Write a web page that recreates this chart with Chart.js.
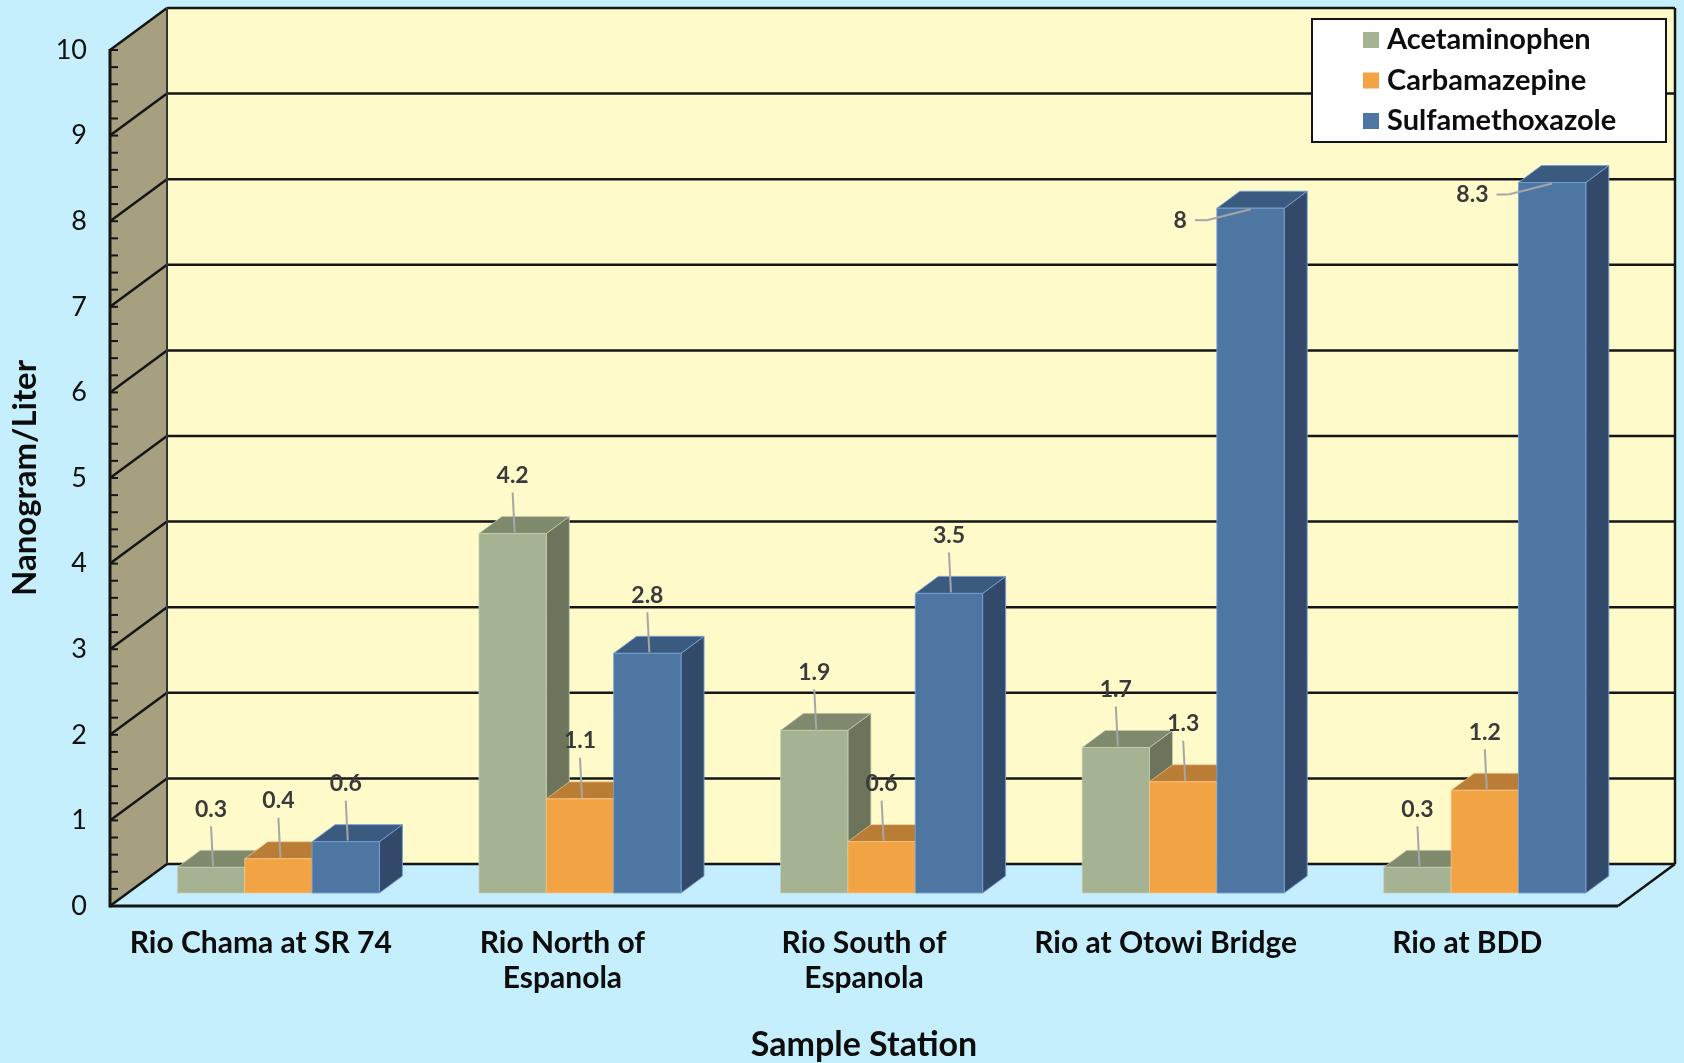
<!DOCTYPE html>
<html>
<head>
<meta charset="utf-8">
<script src="https://cdn.jsdelivr.net/npm/chart.js@4.4.1/dist/chart.umd.min.js"></script>
<style>
  html, body { margin: 0; padding: 0; background: #c6effd; }
  #wrap { width: 1684px; height: 1063px; }
</style>
</head>
<body>
<div id="wrap"><canvas id="chart" width="1684" height="1063"></canvas></div>
<script>
const stations = [
  "Rio Chama at SR 74",
  ["Rio North of", "Espanola"],
  ["Rio South of", "Espanola"],
  "Rio at Otowi Bridge",
  "Rio at BDD"
];
const seriesNames = ["Acetaminophen", "Carbamazepine", "Sulfamethoxazole"];
const acetaminophen = [0.3, 4.2, 1.9, 1.7, 0.3];
const carbamazepine = [0.4, 1.1, 0.6, 1.3, 1.2];
const sulfamethoxazole = [0.6, 2.8, 3.5, 8, 8.3];
const yTicks = [0, 1, 2, 3, 4, 5, 6, 7, 8, 9, 10];

// box faces for each series
const faces = [
  { front: "#a5b392", top: "#7f8a6d", side: "#6c755b", edge: "rgba(200,210,185,0.7)" },
  { front: "#f2a445", top: "#b97d36", side: "#a86f2e", edge: "rgba(250,200,140,0.7)" },
  { front: "#4e76a2", top: "#3b5a7f", side: "#33496a", edge: "rgba(120,160,210,0.9)" }
];

const FONT = "Lato, 'Open Sans', sans-serif";
// depth offsets relative to the bar plane
const FX = -17.6, FY = 13;   // front edge of floor
const BX = 39.4, BY = -29;   // back wall
const DX = 23, DY = -17;     // bar depth

function poly(ctx, pts, fill, stroke, lw) {
  ctx.beginPath();
  ctx.moveTo(pts[0][0], pts[0][1]);
  for (let i = 1; i < pts.length; i++) ctx.lineTo(pts[i][0], pts[i][1]);
  ctx.closePath();
  if (fill) { ctx.fillStyle = fill; ctx.fill(); }
  if (stroke) { ctx.strokeStyle = stroke; ctx.lineWidth = lw || 1; ctx.stroke(); }
}

function line(ctx, x1, y1, x2, y2, color, lw) {
  ctx.beginPath();
  ctx.moveTo(x1, y1);
  ctx.lineTo(x2, y2);
  ctx.strokeStyle = color;
  ctx.lineWidth = lw;
  ctx.stroke();
}

const walls = {
  id: "walls",
  beforeDraw(chart) {
    const ctx = chart.ctx;
    const { left, right } = chart.chartArea;
    const y = chart.scales.y;
    const yTop = y.getPixelForValue(10), yBase = y.getPixelForValue(0);
    ctx.save();
    ctx.fillStyle = "#c6effd";
    ctx.fillRect(0, 0, chart.width, chart.height);

    // floor, back wall, side wall
    poly(ctx, [[left + FX, yBase + FY], [right + FX, yBase + FY], [right + BX, yBase + BY], [left + BX, yBase + BY]], "#c4eefd");
    ctx.fillStyle = "#fefac9";
    ctx.fillRect(left + BX, yTop + BY, right - left, yBase - yTop);
    poly(ctx, [[left + FX, yTop + FY], [left + BX, yTop + BY], [left + BX, yBase + BY], [left + FX, yBase + FY]], "#a69f80");

    // gridlines on both walls
    yTicks.forEach(v => {
      const p = y.getPixelForValue(v);
      line(ctx, left + BX, p + BY, right + BX, p + BY, "#151515", 2.5);
      line(ctx, left + FX, p + FY, left + BX, p + BY, "#151515", 2.5);
    });
    line(ctx, left + BX, yTop + BY, left + BX, yBase + BY, "#333", 2);
    line(ctx, right + BX, yTop + BY, right + BX, yBase + BY, "#151515", 2.5);
    line(ctx, right + FX, yBase + FY, right + BX, yBase + BY, "#151515", 2.5);
    line(ctx, left + FX, yBase + FY, right + FX, yBase + FY, "#151515", 3);
    line(ctx, left + FX, yTop + FY - 1, left + FX, yBase + FY + 1.5, "#151515", 3);

    // minor ticks every 0.2
    for (let k = 0; k <= 50; k++) {
      const p = y.getPixelForValue(k / 5) + FY;
      line(ctx, left + FX, p, left + FX + 8, p, "#151515", 2);
    }

    // y tick labels
    ctx.fillStyle = "#111";
    ctx.font = "27px " + FONT;
    ctx.textAlign = "right";
    ctx.textBaseline = "middle";
    yTicks.forEach(v => ctx.fillText(String(v), 87, y.getPixelForValue(v) + FY));
    ctx.restore();
  }
};

const boxes = {
  id: "boxes",
  beforeDatasetsDraw(chart) {
    const ctx = chart.ctx;
    ctx.save();
    const n = chart.data.labels.length;
    for (let i = 0; i < n; i++) {
      chart.data.datasets.forEach((ds, d) => {
        const bar = chart.getDatasetMeta(d).data[i];
        const c = faces[d];
        const x0 = bar.x - bar.width / 2, x1 = bar.x + bar.width / 2;
        const top = bar.y, base = bar.base;
        poly(ctx, [[x1, top], [x1 + DX, top + DY], [x1 + DX, base + DY], [x1, base]], c.side, c.edge, 1);
        poly(ctx, [[x0, top], [x0 + DX, top + DY], [x1 + DX, top + DY], [x1, top]], c.top, c.edge, 1);
        poly(ctx, [[x0, top], [x1, top], [x1, base], [x0, base]], c.front, c.edge, 1);
      });
    }
    ctx.restore();
    return false;
  }
};

const texts = {
  id: "texts",
  afterDraw(chart) {
    const ctx = chart.ctx;
    const x = chart.scales.x;
    const y = chart.scales.y;
    ctx.save();

    // value callouts
    ctx.font = "bold 23px " + FONT;
    ctx.textBaseline = "middle";
    chart.data.datasets.forEach((ds, d) => {
      chart.getDatasetMeta(d).data.forEach((bar, i) => {
        const v = ds.data[i];
        const label = String(v);
        const cx = bar.x, top = bar.y;
        if (v > 7) {
          const lx = bar.x - bar.width / 2 - 30;
          const ly = top + 12;
          line(ctx, lx + 8, ly, lx + 20, ly, "#a6a6a6", 2);
          ctx.beginPath();
          ctx.moveTo(lx + 20, ly);
          ctx.lineTo(cx, top + 1);
          ctx.stroke();
          ctx.fillStyle = "#3a3a3a";
          ctx.textAlign = "right";
          ctx.fillText(label, lx, ly);
        } else {
          const ly = top - 58;
          line(ctx, cx, ly + 17, cx + 2, top - 1, "#a6a6a6", 2);
          ctx.fillStyle = "#3a3a3a";
          ctx.textAlign = "center";
          ctx.fillText(label, cx, ly);
        }
      });
    });

    // category labels on the front edge
    ctx.fillStyle = "#0d0d0d";
    ctx.font = "bold 30px " + FONT;
    ctx.textAlign = "center";
    const yLab = y.getPixelForValue(0) + FY + 37;
    chart.data.labels.forEach((lab, i) => {
      const cx = x.getPixelForValue(i) + FX;
      const lines = Array.isArray(lab) ? lab : [lab];
      lines.forEach((t, k) => ctx.fillText(t, cx, yLab + k * 35));
    });

    // axis titles
    ctx.font = "bold 34px " + FONT;
    ctx.fillText("Sample Station", (chart.chartArea.left + chart.chartArea.right) / 2 + FX, 1045);
    ctx.save();
    ctx.translate(25, (y.getPixelForValue(0) + y.getPixelForValue(10)) / 2 + FY);
    ctx.rotate(-Math.PI / 2);
    ctx.font = "bold 33px " + FONT;
    ctx.fillText("Nanogram/Liter", 0, 0);
    ctx.restore();

    // legend
    ctx.fillStyle = "#ffffff";
    ctx.fillRect(1312, 19, 354, 123);
    ctx.strokeStyle = "#151515";
    ctx.lineWidth = 2;
    ctx.strokeRect(1312, 19, 354, 123);
    ctx.font = "bold 29px " + FONT;
    ctx.textAlign = "left";
    seriesNames.forEach((name, d) => {
      const ry = 40 + d * 40.5;
      ctx.fillStyle = faces[d].front;
      ctx.fillRect(1363, ry - 8, 16, 16);
      ctx.fillStyle = "#0d0d0d";
      ctx.fillText(name, 1387, ry);
    });
    ctx.restore();
  }
};

new Chart(document.getElementById("chart"), {
  type: "bar",
  data: {
    labels: stations,
    datasets: [
      { label: seriesNames[0], data: acetaminophen, backgroundColor: faces[0].front },
      { label: seriesNames[1], data: carbamazepine, backgroundColor: faces[1].front },
      { label: seriesNames[2], data: sulfamethoxazole, backgroundColor: faces[2].front }
    ]
  },
  options: {
    responsive: false,
    animation: false,
    layout: { padding: { left: 127.6, right: 48.4, top: 37, bottom: 170 } },
    datasets: { bar: { categoryPercentage: 0.67, barPercentage: 1.0 } },
    plugins: {
      legend: { display: false },
      tooltip: { enabled: false }
    },
    scales: {
      x: { display: false },
      y: { display: false, min: 0, max: 10 }
    }
  },
  plugins: [walls, boxes, texts]
});
</script>
</body>
</html>
